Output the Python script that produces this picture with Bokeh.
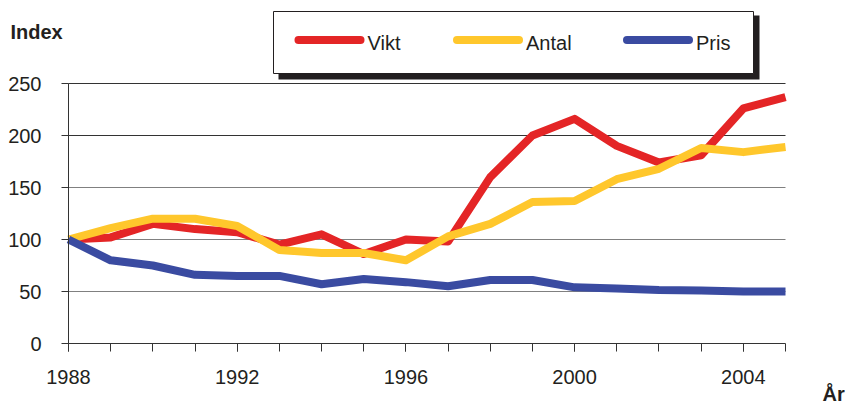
from bokeh.plotting import figure
from bokeh.models import Range1d, FixedTicker, Label, LinearAxis
from bokeh.core.properties import value
from bokeh.embed import file_html
from bokeh.resources import INLINE

# ---- data ----
years = list(range(1988, 2006))
vikt = [100, 102, 115, 110, 107, 95, 105, 86, 100, 98, 160, 200, 216, 190, 174, 181, 226, 237]
antal = [100, 111, 120, 120, 113, 90, 87, 87, 80, 103, 115, 136, 137, 158, 168, 188, 184, 189]
pris = [100, 80, 75, 66, 65, 65, 57, 62, 59, 55, 61, 61, 54, 53, 51.5, 51, 50, 50]
series_names = ["Vikt", "Antal", "Pris"]
y_ticks = [0, 50, 100, 150, 200, 250]
x_label_years = [1988, 1992, 1996, 2000, 2004]
y_axis_title = "Index"
x_axis_title = "År"

# ---- styling / geometry (canvas pixels of the chart) ----
RED, YELLOW, BLUE = "#E42526", "#FFC72C", "#3A4BA1"
COLORS = [RED, YELLOW, BLUE]
TEXT = "#231F20"
FONT = "Liberation Sans"
W, H = 848, 408
X0_PX, X1_PX = 68, 785     # pixel position of first / last year
Y0_PX, Y250_PX = 343, 83   # pixel position of value 0 / 250
PX_PER_YEAR = (X1_PX - X0_PX) / (years[-1] - years[0])
PX_PER_UNIT = (Y0_PX - Y250_PX) / 250.0
TEXT_SHIFT = 8             # correction between requested and drawn text baseline


def dx(px):  # canvas pixel x -> data x
    return years[0] + (px - X0_PX) / PX_PER_YEAR


def dy(py):  # canvas pixel y -> data y
    return (Y0_PX - py) / PX_PER_UNIT


def dy_text(py):  # baseline pixel y -> data y for text
    return dy(py - TEXT_SHIFT)


p = figure(width=W, height=H, output_backend="svg", toolbar_location=None,
           x_range=Range1d(dx(0), dx(W)), y_range=Range1d(dy(H), dy(0)),
           min_border=0, min_border_left=0, min_border_right=0,
           min_border_top=0, min_border_bottom=0,
           x_axis_type=None, y_axis_type=None)
p.outline_line_color = None
p.background_fill_color = "white"
p.border_fill_color = "white"
p.grid.visible = False

# horizontal grid lines between first and last year
light = [v for v in y_ticks if 0 < v <= 150]
dark = [v for v in y_ticks if v > 150]
p.segment(x0=[years[0]] * len(light), x1=[years[-1]] * len(light), y0=light, y1=light,
          line_color="#808080", line_width=1, level="underlay")
p.segment(x0=[years[0]] * len(dark), x1=[years[-1]] * len(dark), y0=dark, y1=dark,
          line_color="#333333", line_width=1, level="underlay")

# y axis
ya = LinearAxis(fixed_location=years[0], ticker=FixedTicker(ticks=y_ticks), bounds=(0, 250))
ya.axis_line_color = "#333333"
ya.major_tick_line_color = "#333333"
ya.major_tick_out = 7
ya.major_tick_in = 0
ya.minor_tick_line_color = None
ya.major_label_standoff = 20
ya.major_label_text_font = FONT
ya.major_label_text_font_size = "20px"
ya.major_label_text_color = TEXT
p.add_layout(ya, "left")

# x axis
xa = LinearAxis(fixed_location=0, ticker=FixedTicker(ticks=x_label_years, minor_ticks=years),
                bounds=(years[0], years[-1]))
xa.axis_line_color = "#333333"
xa.major_tick_line_color = "#333333"
xa.minor_tick_line_color = "#333333"
xa.major_tick_out = 8
xa.major_tick_in = 0
xa.minor_tick_out = 8
xa.minor_tick_in = 0
xa.major_label_standoff = 18
xa.major_label_text_font = FONT
xa.major_label_text_font_size = "20px"
xa.major_label_text_color = TEXT
p.add_layout(xa, "below")

# data lines
for vals, col in zip([vikt, antal, pris], COLORS):
    p.line(years, vals, line_width=8, line_color=col, line_join="round", line_cap="butt")

# legend frame with shadow
p.quad(left=[dx(278)], right=[dx(759)], top=[dy(15)], bottom=[dy(79)],
       fill_color="#231F20", line_color=None)
p.quad(left=[dx(273)], right=[dx(753)], top=[dy(11)], bottom=[dy(73)],
       fill_color="white", line_color="#231F20", line_width=1)

# legend keys and labels
key_start = [298, 456.5, 626.5]
for i, (name, col) in enumerate(zip(series_names, COLORS)):
    xs = key_start[i]
    p.line([dx(xs), dx(xs + 62)], [dy(39.5), dy(39.5)], line_width=8, line_color=col,
           line_cap="round")
    p.text(x=[dx(xs + 69)], y=[dy_text(50)], text=[name], text_font=value(FONT),
           text_font_size="20px", text_color=TEXT, text_baseline="alphabetic",
           text_align="left")

# axis titles
p.add_layout(Label(x=dx(10), y=dy_text(39.5), text=y_axis_title, text_font=FONT,
                   text_font_size="20px", text_font_style="bold", text_color=TEXT,
                   text_baseline="alphabetic", text_align="left"))
p.add_layout(Label(x=dx(822), y=dy_text(401), text=x_axis_title, text_font=FONT,
                   text_font_size="20px", text_font_style="bold", text_color=TEXT,
                   text_baseline="alphabetic", text_align="left"))

open("out.html", "w").write(file_html(p, INLINE))
